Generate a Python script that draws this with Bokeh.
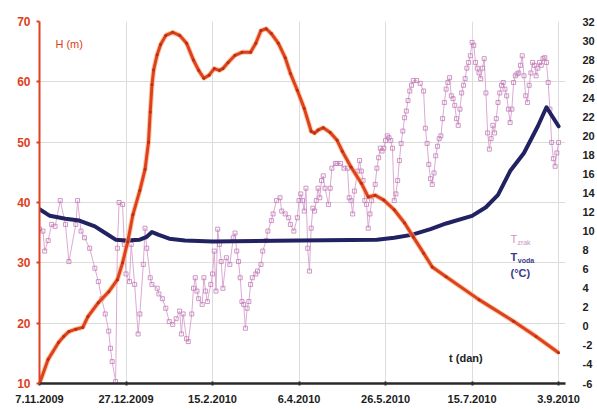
from datetime import date, timedelta

from bokeh.plotting import figure
from bokeh.models import Range1d, LinearAxis, FixedTicker, Label
from bokeh.embed import file_html
from bokeh.resources import INLINE

# --- data -------------------------------------------------------------------
start_date = date(2009, 11, 7)
tick_days = [0, 50, 100, 150, 200, 250, 300]

# reservoir level H (m)
level_days = [0, 5, 11, 14, 17, 21, 25, 28, 34, 40, 45, 48, 51, 54, 58, 61, 63, 64,
              65, 66, 68, 70, 73, 77, 81, 85, 89, 92, 95, 98, 101, 104, 106, 109,
              113, 117, 122, 125, 128, 131, 134, 138, 142, 145, 149, 153, 157, 159,
              161, 164, 168, 172, 175, 180, 186, 190, 194, 199, 205, 211, 216, 222,
              227, 235, 254, 274, 287, 300]
level_m = [10.0, 14.0, 16.8, 17.8, 18.6, 19.0, 19.3, 21.1, 23.4, 25.2, 27.2, 30.0,
           33.5, 38.0, 42.0, 45.5, 50.0, 55.0, 59.5, 62.0, 64.5, 66.2, 67.7, 68.2,
           67.7, 66.4, 63.6, 61.9, 60.6, 61.1, 62.2, 61.9, 62.2, 63.2, 64.4, 64.9,
           64.9, 66.4, 68.5, 68.8, 68.0, 66.4, 64.0, 61.4, 58.6, 55.6, 51.8, 51.5,
           52.0, 52.4, 51.6, 50.3, 48.5, 45.9, 43.2, 40.9, 41.2, 40.4, 38.8, 36.6,
           34.3, 31.6, 29.3, 27.7, 23.9, 20.3, 17.8, 15.1]

# water temperature (°C)
water_days = [0, 6, 15, 23, 32, 38, 44, 50, 58, 62, 65, 69, 75, 84, 100, 150, 195,
              205, 215, 226, 235, 250, 258, 265, 272, 280, 288, 293, 300]
water_temp = [12.3, 11.6, 11.3, 11.1, 10.5, 9.8, 9.1, 9.0, 9.1, 9.4, 9.9, 9.6, 9.2,
              9.0, 8.9, 9.0, 9.1, 9.3, 9.6, 10.2, 10.8, 11.6, 12.5, 13.8, 16.3, 18.2,
              21.0, 23.0, 21.0]

# air temperature (°C)
air_days = [0, 2, 3, 5, 7, 9, 12, 15, 17, 21, 22, 24, 26, 29, 32, 34, 36, 38, 40,
            41, 42, 44, 45, 46, 48, 49, 50, 52, 53, 55, 57, 58, 60, 61, 62, 64, 65,
            68, 69, 71, 73, 75, 77, 79, 81, 82, 83, 85, 86, 88, 89, 90, 91, 92, 94,
            95, 96, 97, 99, 100, 101, 102, 103, 104, 105, 106, 108, 110, 112, 113,
            114, 115, 116, 117, 118, 119, 120, 121, 122, 123, 125, 126, 128, 129,
            131, 132, 134, 135, 137, 139, 140, 142, 144, 145, 147, 149, 150,
            151, 152, 153, 154, 155, 156, 157, 158, 159, 160, 161, 162, 163, 164,
            165, 167, 168, 169, 171, 172, 174, 176, 178, 179, 180, 181, 182, 184,
            185, 186, 187, 188, 189, 190, 191, 192, 194, 195, 196, 197, 198, 199,
            200, 201, 202, 203, 204, 205, 206, 207, 208, 209, 210, 211, 212, 213,
            214, 215, 216, 218, 220, 222, 223, 224, 225, 226, 227, 228, 229, 230,
            231, 232, 233, 234, 235, 236, 237, 238, 239, 240, 241, 242, 243, 244,
            245, 246, 247, 248, 249, 250, 251, 252, 253, 254, 255, 256, 257, 258,
            259, 260, 261, 262, 263, 264, 265, 266, 267, 268, 269, 270, 271, 272,
            273, 274, 275, 276, 277, 278, 279, 280, 281, 282, 283, 284, 285, 286,
            287, 288, 289, 290, 291, 292, 293, 294, 295, 296, 297, 298, 299, 300]
air_temp = [10.2, 10.0, 7.9, 9.0, 10.7, 10.5, 13.2, 10.7, 6.8, 10.7, 13.2, 10.0,
            9.3, 8.2, 6.1, 4.7, 2.9, 1.3, -0.5, -2.3, -3.7, -5.8, 8.2, 13.0, 12.8,
            8.6, 5.5, 4.7, 8.6, 4.4, -0.8, 1.3, 6.5, 10.3, 8.2, 5.1, 4.4, 4.0, 3.4,
            2.9, 1.9, 0.5, 0.2, 0.8, 1.6, -0.8, 1.3, -1.3, -1.6, 1.3, 4.0, 5.1, 3.7,
            2.9, 2.3, 5.1, 3.7, 2.6, 4.4, 5.5, 7.9, 3.7, 10.2, 8.6, 6.8, 4.0, 7.2,
            6.5, 9.3, 9.8, 7.9, 6.8, 5.1, 2.6, 2.3, -0.2, 1.9, 2.6, 4.4, 5.1, 5.5,
            5.8, 6.5, 7.9, 9.0, 10.0, 11.1, 11.8, 13.2, 13.5, 12.1, 11.8, 11.4, 10.7,
            10.0, 11.4, 13.2,
            13.9, 13.2, 12.1, 14.5, 8.2, 5.8, 10.3, 12.4, 12.1, 13.2, 14.5, 13.5,
            15.3, 15.8, 14.5, 12.8, 14.5, 16.6, 17.1, 17.1, 17.1, 16.6, 16.6, 13.5,
            13.2, 11.8, 14.2, 16.3, 17.4, 16.3, 15.3, 13.2, 12.8, 10.3, 11.8, 13.2,
            14.9, 16.6, 17.7, 18.7, 18.4, 18.7, 19.5, 20.0, 19.8, 19.5, 18.7, 13.2,
            13.9, 15.3, 17.4, 19.2, 20.5, 21.9, 22.6, 23.7, 24.7, 25.3, 25.8, 25.8,
            25.5, 24.7, 20.8, 19.2, 17.0, 15.5, 14.9, 16.1, 17.9, 18.9, 19.7, 20.0,
            21.8, 23.5, 24.9, 25.6, 26.1, 24.2, 23.9, 23.2, 21.8, 21.1, 22.8, 24.5,
            25.3, 26.0, 27.1, 27.7, 28.4, 29.8, 29.5, 27.7, 27.1, 26.6, 26.0, 27.1,
            28.1, 24.5, 20.3, 18.6, 19.7, 21.1, 20.3, 21.8, 23.5, 24.5, 25.3, 25.6,
            24.9, 24.2, 22.8, 21.4, 22.8, 25.6, 26.3, 26.5, 26.6, 27.4, 28.4, 26.3,
            24.2, 23.5, 25.3, 26.6, 27.7, 27.4, 26.3, 27.1, 27.7, 27.4, 28.1, 28.2,
            27.7, 25.6, 22.8, 19.3, 17.6, 16.8, 18.2, 19.3]

level_ticks = [10, 20, 30, 40, 50, 60, 70]
temp_ticks = list(range(-6, 33, 2))


def date_label(offset):
    d = start_date + timedelta(days=offset)
    return f"{d.day}.{d.month}.{d.year}"


FONT = "Liberation Sans"
RED = "#de4020"
NAVY = "#222262"
PINK = "#c27cb8"

# --- figure -------------------------------------------------------------------
p = figure(width=597, height=409, x_range=Range1d(0, 304), y_range=Range1d(10, 70),
           output_backend="svg", toolbar_location=None,
           min_border_left=39, min_border_right=27, min_border_top=21,
           min_border_bottom=26)
p.outline_line_color = None
p.extra_y_ranges = {"temp": Range1d(-6, 32)}

# grid
p.xgrid.ticker = FixedTicker(ticks=tick_days)
p.ygrid.ticker = FixedTicker(ticks=level_ticks)
p.xgrid.grid_line_color = "#dcdcdc"
p.ygrid.grid_line_color = "#dcdcdc"

# bottom axis (dates)
xa = p.xaxis[0]
xa.ticker = FixedTicker(ticks=tick_days)
xa.major_label_overrides = {d: date_label(d) for d in tick_days}
xa.axis_line_color = "#2a2a2a"
xa.axis_line_width = 2.5
xa.major_tick_line_color = "#2a2a2a"
xa.major_tick_line_width = 2
xa.major_tick_in = 2
xa.major_tick_out = 2
xa.minor_tick_line_color = None
xa.major_label_standoff = 9
xa.major_label_text_font = FONT
xa.major_label_text_font_style = "bold"
xa.major_label_text_font_size = "11px"
xa.major_label_text_color = "#1c1c1c"

# left axis (level)
ya = p.yaxis[0]
ya.ticker = FixedTicker(ticks=level_ticks)
ya.axis_line_color = RED
ya.axis_line_width = 2
ya.major_tick_line_color = RED
ya.major_tick_line_width = 2
ya.major_tick_in = 0
ya.major_tick_out = 3
ya.minor_tick_line_color = None
ya.major_label_standoff = 6
ya.major_label_text_font = FONT
ya.major_label_text_font_style = "bold"
ya.major_label_text_font_size = "12px"
ya.major_label_text_color = RED

# right axis (temperature), plain hyphen for negatives
ra = LinearAxis(y_range_name="temp", ticker=FixedTicker(ticks=temp_ticks))
ra.major_label_overrides = {t: str(t) for t in temp_ticks}
ra.axis_line_color = None
ra.major_tick_line_color = None
ra.minor_tick_line_color = None
ra.major_label_standoff = 11
ra.major_label_text_font = FONT
ra.major_label_text_font_style = "bold"
ra.major_label_text_font_size = "11px"
ra.major_label_text_color = "#222222"
p.add_layout(ra, "right")

# series
p.line(air_days, air_temp, y_range_name="temp", line_color="#dcaad4", line_width=1)
p.scatter(air_days, air_temp, y_range_name="temp", marker="square", size=4,
          line_color=PINK, fill_color=None, line_width=0.8)

p.line(water_days, water_temp, y_range_name="temp", line_color=NAVY, line_width=4,
       line_join="round", line_cap="round")

p.line(level_days, level_m, line_color="#f6b27a", line_width=5, line_alpha=0.7,
       line_join="round")
p.line(level_days, level_m, line_color=RED, line_width=3, line_join="round")
p.scatter(level_days, level_m, marker="circle", size=3, line_color=None,
          fill_color="#b83014")

# annotations
p.add_layout(Label(x=9.2, y=66.35, text="H (m)", text_font=FONT, text_font_size="11px",
                   text_color=RED, text_baseline="middle"))
p.add_layout(Label(x=236.7, y=14.3, text="t (dan)", text_font=FONT,
                   text_font_size="11px", text_font_style="bold", text_color="#222222",
                   text_baseline="middle"))
p.add_layout(Label(x=272.2, y=9.22, y_range_name="temp", text="T", text_font=FONT,
                   text_font_size="11px", text_color="#c896c0", text_baseline="middle"))
p.add_layout(Label(x=276.2, y=8.75, y_range_name="temp", text="zrak", text_font=FONT,
                   text_font_size="7px", text_color="#c896c0", text_baseline="middle"))
p.add_layout(Label(x=272.2, y=7.33, y_range_name="temp", text="T", text_font=FONT,
                   text_font_size="11px", text_font_style="bold", text_color="#3a3a8e",
                   text_baseline="middle"))
p.add_layout(Label(x=276.4, y=6.9, y_range_name="temp", text="voda", text_font=FONT,
                   text_font_size="7px", text_font_style="bold", text_color="#3a3a8e",
                   text_baseline="middle"))
p.add_layout(Label(x=272.2, y=5.55, y_range_name="temp", text="(°C)", text_font=FONT,
                   text_font_size="11px", text_font_style="bold", text_color="#3a3a8e",
                   text_baseline="middle"))

open("out.html", "w").write(file_html(p, INLINE))
